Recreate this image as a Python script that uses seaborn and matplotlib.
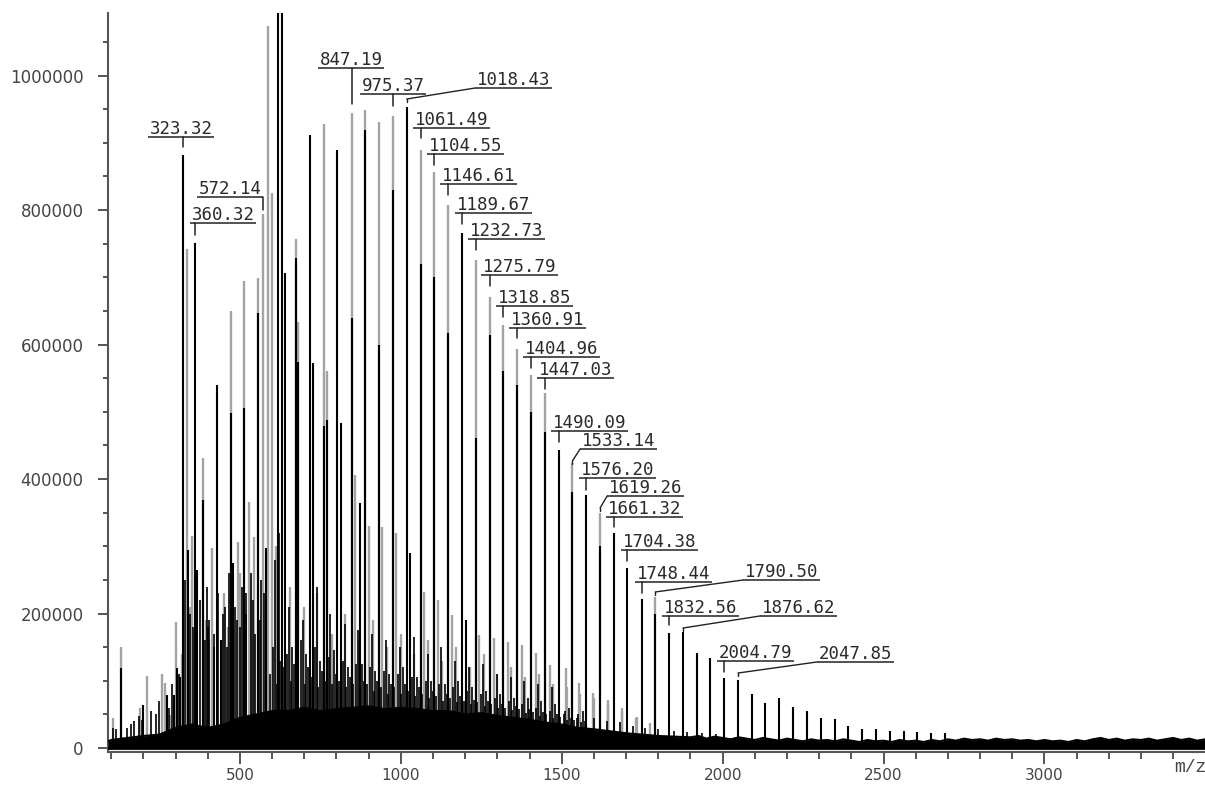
import matplotlib
matplotlib.use("Agg")
import matplotlib.pyplot as plt
from matplotlib.ticker import MultipleLocator, FixedLocator, FuncFormatter
import seaborn as sns
import pandas as pd

# ---------------- data ----------------
# black trace: peak m/z and intensity
black_mz = [130, 199, 273, 295, 304, 314, 323.32, 340, 360.32, 366, 385, 428, 441, 472, 478,
            512, 556, 581, 618, 630, 641, 674, 680, 717, 727, 760, 772, 803, 814, 847.19,
            873, 889, 932, 975.37, 1018.43, 1029, 1061.49, 1104.55, 1146.61, 1189.67, 1201,
            1232.73, 1275.79, 1318.85, 1360.91, 1404.96, 1447.03, 1490.09, 1533.14, 1576.20,
            1619.26, 1661.32, 1704.38, 1748.44, 1790.50, 1832.56, 1876.62, 1919, 1961,
            2004.79, 2047.85, 2090, 2133, 2176, 2219, 2262, 2305, 2348, 2391, 2434, 2477,
            2520, 2563, 2605, 2648, 2690]
black_int = [119000, 64000, 79000, 79000, 119000, 105000, 882000, 294000, 751000, 265000,
             369000, 540000, 160000, 498000, 275000, 505000, 647000, 297000, 1250000, 1220000,
             706000, 729000, 574000, 911000, 572000, 479000, 488000, 889000, 483000, 639000,
             364000, 919000, 600000, 830000, 953000, 290000, 720000, 700000, 617000, 766000,
             190000, 461000, 614000, 560000, 540000, 500000, 470000, 443000, 380000, 376000,
             300000, 320000, 268000, 221000, 200000, 171000, 172000, 141000, 134000,
             104000, 101000, 80000, 67000, 74000, 61000, 55000, 45000, 43000, 33000, 28000,
             28000, 25000, 25000, 24000, 23000, 22000]

# grey trace: peak m/z and intensity
gray_mz = [105, 130, 189, 211, 258, 267, 282, 301, 335, 350, 385, 413, 472, 494, 512, 528,
           544, 556, 572.14, 587, 600, 674, 680, 760, 771, 847.19, 858, 889, 900, 932, 943,
           975.37, 986, 1061.49, 1072, 1104.55, 1115, 1146.61, 1158, 1232.73, 1244, 1275.79,
           1290, 1318.85, 1333, 1360.91, 1376, 1404.96, 1419, 1447.03, 1465, 1512, 1533.14,
           1553, 1597, 1619.26, 1644, 1687, 1734, 1774, 1790.50]
gray_int = [45000, 150000, 59000, 107000, 110000, 97000, 49000, 187000, 742000, 315000,
            431000, 297000, 650000, 306000, 694000, 366000, 314000, 699000, 794000, 1073000,
            825000, 757000, 633000, 928000, 561000, 944000, 406000, 949000, 330000, 931000,
            329000, 940000, 320000, 889000, 232000, 857000, 220000, 807000, 198000, 726000,
            168000, 671000, 163000, 629000, 158000, 593000, 153000, 555000, 141000, 528000,
            123000, 119000, 424000, 97000, 82000, 349000, 71000, 59000, 46000, 37000, 225000]

# small grey spikes in the grass
gray_minor_mz = [320, 345, 395, 405, 452, 462, 500, 535, 612, 655, 698, 741, 785, 828, 870,
                 913, 956, 999, 1042, 1085, 1128, 1171, 1214, 1257, 1300, 1343, 1386, 1429,
                 1472, 1515, 1558, 1601, 1645, 1688, 1731]
gray_minor_int = [140000, 210000, 190000, 160000, 230000, 180000, 260000, 220000, 300000,
                  240000, 210000, 230000, 170000, 200000, 160000, 190000, 150000, 170000,
                  140000, 160000, 130000, 150000, 120000, 140000, 110000, 120000, 105000,
                  110000, 95000, 90000, 80000, 75000, 65000, 55000, 45000]

# smaller black peaks inside the dense region
minor_mz = [105, 115, 150, 160, 172, 185, 195, 225, 240, 248, 280, 290, 310,
            330, 345, 355, 375, 392, 398, 405, 418, 433, 447, 460, 465, 485, 500, 505, 518,
            540, 548, 562, 575,
            400, 420, 455, 490, 520, 535, 565, 610, 622,
            652, 663, 695, 706, 738, 749, 781, 792, 825, 835, 868, 878, 911, 921, 954, 964,
            997, 1007, 1040, 1050, 1083, 1093, 1126, 1136, 1169, 1179, 1212, 1222, 1255,
            1265, 1298, 1308, 1341, 1351, 1384, 1394, 1427, 1437, 1470, 1480, 1510, 1523,
            1550, 1566, 1600, 1640, 1680, 1720, 1760, 1800, 1850, 1890, 1935, 1980]
minor_int = [30000, 28000, 30000, 35000, 40000, 48000, 42000, 55000, 50000, 70000, 60000,
             95000, 110000,
             250000, 200000, 180000, 220000, 160000, 240000, 190000, 170000, 230000, 200000,
             150000, 260000, 210000, 180000, 240000, 200000, 220000, 170000, 190000, 230000,
             180000, 150000, 210000, 190000, 230000, 260000, 250000, 280000, 320000,
             210000, 150000, 190000, 140000, 240000, 130000, 200000, 145000, 185000, 120000,
             175000, 125000, 170000, 115000, 160000, 110000, 150000, 120000, 165000, 105000,
             140000, 100000, 150000, 95000, 130000, 100000, 120000, 90000, 125000, 85000,
             110000, 80000, 105000, 75000, 100000, 75000, 95000, 70000, 90000, 65000, 55000,
             60000, 50000, 55000, 45000, 40000, 38000, 33000, 30000, 28000, 25000, 24000,
             22000, 21000]

# further grass between the series
grass_mz = [593, 604, 615, 626, 636, 647, 658, 669, 679, 690, 701, 712, 722, 733, 744, 755,
            765, 776, 787, 798, 808, 819, 830, 841, 851, 862, 873, 884, 894, 905, 916, 927,
            937, 948, 959, 970, 980, 991, 1002, 1013, 1023, 1034, 1045, 1056, 1066, 1077,
            1088, 1099, 1109, 1120, 1131, 1142, 1152, 1163, 1174, 1185, 1195, 1206, 1217,
            1228, 1238, 1249, 1260, 1271, 1281, 1292, 1303, 1314, 1324, 1335, 1346, 1357,
            1366, 1377, 1388, 1399, 1410, 1421, 1432, 1443, 1452, 1463, 1474, 1485, 1495,
            1506, 1517, 1528, 1538, 1549, 1560, 1571]
grass_int = [110000, 150000, 95000, 130000, 120000, 140000, 100000, 125000, 115000, 160000,
             95000, 120000, 105000, 150000, 90000, 115000, 100000, 135000, 95000, 110000,
             100000, 130000, 90000, 105000, 95000, 125000, 85000, 100000, 95000, 120000,
             85000, 100000, 90000, 115000, 80000, 95000, 90000, 110000, 80000, 95000, 85000,
             105000, 78000, 90000, 80000, 100000, 75000, 85000, 78000, 95000, 70000, 80000,
             75000, 90000, 68000, 78000, 70000, 85000, 65000, 72000, 68000, 80000, 62000,
             70000, 65000, 75000, 60000, 66000, 60000, 70000, 56000, 62000, 58000, 66000,
             52000, 58000, 54000, 60000, 48000, 54000, 50000, 55000, 45000, 50000, 46000,
             50000, 42000, 45000, 42000, 45000, 38000, 40000]

# noise floor envelope
base_mz = [90, 100, 150, 200, 250, 300, 350, 400, 450, 500, 550, 600, 650, 700, 750, 800,
           850, 900, 950, 1000, 1050, 1100, 1150, 1200, 1250, 1300, 1350, 1400, 1450, 1500,
           1550, 1600, 1650, 1700, 1750, 1800, 1850,
           1900, 1925, 1950, 1975, 2000, 2025, 2050, 2075, 2100, 2125, 2150, 2175, 2200,
           2225, 2250, 2275, 2300, 2325, 2350, 2375, 2400, 2425, 2450, 2475, 2500, 2525,
           2550, 2575, 2600, 2625, 2650, 2675, 2700, 2725, 2750, 2775, 2800, 2825, 2850,
           2875, 2900, 2925, 2950, 2975, 3000, 3025, 3050, 3075, 3100, 3125, 3150, 3175,
           3200, 3225, 3250, 3275, 3300, 3325, 3350, 3375, 3400, 3425, 3450, 3475, 3500]
base_int = [10000, 12000, 15000, 18000, 20000, 30000, 35000, 30000, 35000, 45000, 50000,
            55000, 55000, 60000, 55000, 58000, 60000, 62000, 58000, 60000, 58000, 55000,
            55000, 50000, 52000, 48000, 45000, 42000, 38000, 35000, 30000, 28000, 25000,
            22000, 20000, 18000, 17000,
            16000, 18000, 14000, 17000, 15000, 13000, 16000, 14000, 12000, 15000, 13000,
            11000, 14000, 12000, 10000, 13000, 11000, 12000, 10000, 13000, 11000, 9000,
            12000, 10000, 11000, 9000, 12000, 10000, 11000, 9000, 12000, 10000, 13000, 11000,
            14000, 12000, 13000, 11000, 14000, 12000, 13000, 11000, 12000, 10000, 12000,
            10000, 11000, 9000, 12000, 10000, 13000, 15000, 12000, 14000, 11000, 13000,
            12000, 14000, 11000, 13000, 15000, 12000, 14000, 11000, 13000]

# annotated peaks
label_text = ["323.32", "360.32", "572.14", "847.19", "975.37", "1018.43", "1061.49",
              "1104.55", "1146.61", "1189.67", "1232.73", "1275.79", "1318.85", "1360.91",
              "1404.96", "1447.03", "1490.09", "1533.14", "1576.20", "1619.26", "1661.32",
              "1704.38", "1748.44", "1790.50", "1832.56", "1876.62", "2004.79", "2047.85"]

x_ticks = [500, 1000, 1500, 2000, 2500, 3000]
y_ticks = [0, 200000, 400000, 600000, 800000, 1000000]

# ---------------- layout of the annotations ----------------
# (underline height, underline left m/z, stem/leader end height, kind)
# kind: 's' vertical stem, 'r' stem at the right end, 'l' slanted leader
label_layout = [
    (908600, 214, 893700, 's'), (780700, 345, 762800, 's'), (819300, None, 800000, 'r'),
    (1011200, 742, 957600, 's'), (972500, 873, 954600, 's'), (981400, 1230, 965100, 'l'),
    (921900, 1038, 907100, 's'), (883300, 1081, 866900, 's'), (838700, 1122, 822300, 's'),
    (795500, 1168, 779200, 's'), (756900, 1209, 740500, 's'), (703400, 1249, 687000, 's'),
    (657300, 1296, 640900, 's'), (624500, 1336, 609700, 's'), (581400, 1379, 565100, 's'),
    (550200, 1423, 533800, 's'), (471400, 1466, 455000, 's'), (444600, 1557, 426800, 'l'),
    (401500, 1553, 383600, 's'), (374700, 1641, 356900, 'l'), (343500, 1637, 328600, 's'),
    (294400, 1684, 278100, 's'), (246800, 1728, 230500, 's'), (249800, 2063, 232000, 'l'),
    (196300, 1811, 182900, 's'), (196300, 2116, 178400, 'l'), (129400, 1982, 113000, 's'),
    (127900, 2293, 111500, 'l'),
]

W, H = 1205, 785
sns.set_style("ticks")
plt.rcParams["font.family"] = ["DejaVu Sans"]
plt.rcParams["xtick.labelsize"] = 11
plt.rcParams["ytick.labelsize"] = 12

fig = plt.figure(figsize=(W / 100, H / 100), dpi=100)
ax = fig.add_axes([108 / W, 33 / H, 1 - 108 / W, (752 - 13) / H])

XMIN, XMAX = 90, 3499
YMIN, YMAX = -5950, 1093000
ax.set_xlim(XMIN, XMAX)
ax.set_ylim(YMIN, YMAX)

mz_per_px = (XMAX - XMIN) / (W - 108)
int_per_px = (YMAX - YMIN) / (752 - 13)

gray_df = pd.DataFrame({"mz": gray_mz + gray_minor_mz, "intensity": gray_int + gray_minor_int})
black_df = pd.DataFrame({"mz": black_mz, "intensity": black_int})
minor_df = pd.DataFrame({"mz": minor_mz + grass_mz, "intensity": minor_int + grass_int})
base_df = pd.DataFrame({"mz": base_mz, "intensity": base_int})

ax.vlines(gray_df["mz"], 0, gray_df["intensity"], color="#a3a3a3", lw=1.7, zorder=2)
ax.fill_between(base_df["mz"], 0, base_df["intensity"], color="black", lw=0, zorder=3)
sns.lineplot(data=base_df, x="mz", y="intensity", color="black", lw=1.4, ax=ax, zorder=3)
ax.vlines(minor_df["mz"], 0, minor_df["intensity"], color="black", lw=1.2, zorder=4)
ax.vlines(black_df["mz"], 0, black_df["intensity"], color="black", lw=1.5, zorder=5)
ax.axhline(0, color="black", lw=2.0, zorder=5)

# annotations
char_px = 11.0
for txt, (uy, left, end_y, kind) in zip(label_text, label_layout):
    peak = float(txt)
    width = len(txt) * char_px * mz_per_px
    if kind == "r":
        left = peak - width
    right = left + width
    ax.plot([left, right], [uy, uy], color="#222222", lw=1.1, zorder=6,
            solid_capstyle="butt")
    if kind in ("s", "r"):
        ax.plot([peak, peak], [uy, end_y], color="#222222", lw=1.1, zorder=6)
    else:
        ax.plot([left, peak], [uy, end_y], color="#222222", lw=1.0, zorder=6)
        ax.plot([peak, peak], [end_y, end_y - 3 * int_per_px], color="#222222", lw=1.0,
                zorder=6)
    ax.text(left + 2 * mz_per_px, uy + 3 * int_per_px, txt, fontsize=12.5,
            family="DejaVu Sans Mono", color="#2a2a2a", ha="left", va="baseline",
            zorder=7)

# axes styling
for s in ("top", "right"):
    ax.spines[s].set_visible(False)
for s in ("left", "bottom"):
    ax.spines[s].set_color("#555555")
    ax.spines[s].set_linewidth(1.5)

ax.xaxis.set_major_locator(FixedLocator(x_ticks))
ax.xaxis.set_minor_locator(MultipleLocator(100))
ax.yaxis.set_major_locator(FixedLocator(y_ticks))
ax.yaxis.set_minor_locator(MultipleLocator(50000))
ax.yaxis.set_major_formatter(FuncFormatter(lambda v, p: f"{int(round(v))}"))
ax.tick_params(axis="both", which="both", direction="out", color="#555555", width=1.4,
               labelcolor="#444444")
ax.tick_params(axis="x", which="major", length=8.5, pad=3)
ax.tick_params(axis="x", which="minor", length=4.7)
ax.tick_params(axis="y", which="major", length=7.2, pad=10.5)
ax.tick_params(axis="y", which="minor", length=3.6)
for lab in ax.get_xticklabels():
    lab.set_fontsize(11)
for lab in ax.get_yticklabels():
    lab.set_fontsize(12)
ax.set_xlabel("")
ax.set_ylabel("")

fig.text(1190 / W, 1 - 767 / H, "m/z", fontsize=13, family="Liberation Mono",
         color="#444444", ha="center", va="center")

fig.savefig("out.png", dpi=100)
